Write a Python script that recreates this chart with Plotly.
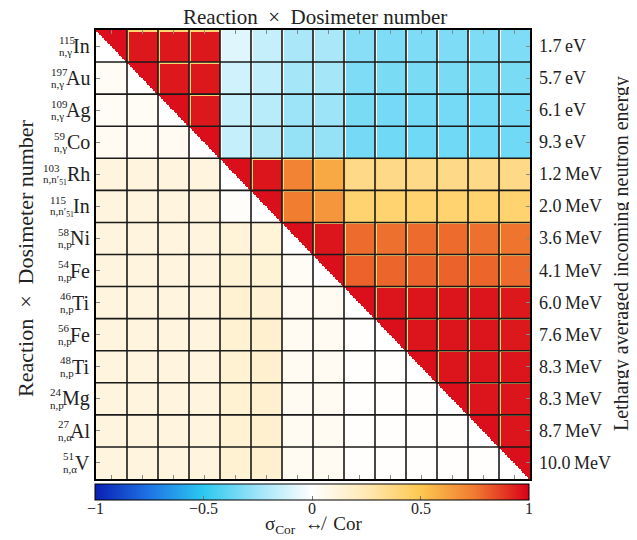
import numpy as np
import plotly.graph_objects as go

# ---------------- data ----------------
mass_numbers = ["115", "197", "109", "59", "103", "115", "58", "54", "46", "56", "48", "24", "27", "51"]
reactions = ["n,γ", "n,γ", "n,γ", "n,γ", "n,n′<sub>51</sub>", "n,n′<sub>51</sub>",
             "n,p", "n,p", "n,p", "n,p", "n,p", "n,p", "n,α", "n,α"]
elements = ["In", "Au", "Ag", "Co", "Rh", "In", "Ni", "Fe", "Ti", "Fe", "Ti", "Mg", "Al", "V"]
energies = ["1.7\u2009eV", "5.7\u2009eV", "6.1\u2009eV", "9.3\u2009eV", "1.2\u2009MeV", "2.0\u2009MeV",
            "3.6\u2009MeV", "4.1\u2009MeV", "6.0\u2009MeV", "7.6\u2009MeV", "8.3\u2009MeV", "8.3\u2009MeV",
            "8.7\u2009MeV", "10.0\u2009MeV"]
cbar_ticks = [-1, -0.5, 0, 0.5, 1]
cbar_ticktext = ["−1", "−0.5", "0", "0.5", "1"]

# block values: upper triangle = Cor, lower triangle = sigma_Cor, diagonal = Cor inside block
block_values = [
    [0.97, 0.95, 0.95, 0.95, -0.08, -0.15, -0.22, -0.22, -0.30, -0.32, -0.32, -0.32, -0.32, -0.32],
    [0.03, 0.97, 0.95, 0.95, -0.12, -0.16, -0.23, -0.23, -0.32, -0.33, -0.33, -0.33, -0.33, -0.33],
    [0.03, 0.03, 0.97, 0.95, -0.15, -0.18, -0.25, -0.25, -0.33, -0.34, -0.34, -0.34, -0.34, -0.34],
    [0.04, 0.04, 0.04, 0.97, -0.15, -0.20, -0.27, -0.27, -0.34, -0.35, -0.35, -0.35, -0.35, -0.35],
    [0.11, 0.11, 0.11, 0.11, 0.97, 0.96, 0.72, 0.60, 0.36, 0.36, 0.36, 0.36, 0.36, 0.36],
    [0.11, 0.11, 0.11, 0.11, 0.02, 0.97, 0.74, 0.66, 0.42, 0.42, 0.42, 0.42, 0.42, 0.42],
    [0.11, 0.11, 0.11, 0.11, 0.13, 0.13, 0.97, 0.96, 0.78, 0.77, 0.78, 0.78, 0.77, 0.76],
    [0.11, 0.11, 0.11, 0.11, 0.14, 0.14, 0.03, 0.97, 0.80, 0.79, 0.80, 0.80, 0.79, 0.78],
    [0.11, 0.11, 0.11, 0.11, 0.15, 0.15, 0.04, 0.04, 0.97, 0.96, 0.96, 0.96, 0.96, 0.95],
    [0.11, 0.11, 0.11, 0.11, 0.15, 0.16, 0.04, 0.04, 0.01, 0.97, 0.96, 0.96, 0.96, 0.95],
    [0.11, 0.11, 0.11, 0.11, 0.15, 0.16, 0.04, 0.04, 0.01, 0.01, 0.97, 0.96, 0.96, 0.96],
    [0.11, 0.11, 0.11, 0.11, 0.15, 0.16, 0.04, 0.04, 0.01, 0.01, 0.01, 0.97, 0.96, 0.96],
    [0.11, 0.11, 0.11, 0.11, 0.15, 0.16, 0.04, 0.04, 0.01, 0.01, 0.01, 0.01, 0.97, 0.96],
    [0.11, 0.11, 0.11, 0.11, 0.15, 0.16, 0.04, 0.04, 0.01, 0.01, 0.01, 0.01, 0.01, 0.97],
]
# first energy group of each block (visible stripes on top / left edge of upper blocks)
edge_cor_positive = 0.42
edge_cor_negative = 0.03

# ---------------- build matrix ----------------
nb = len(elements)
n = 20
N = nb * n
B = np.array(block_values)
Z = np.kron(B, np.ones((n, n)))
for i in range(nb):
    for j in range(nb):
        r0, c0 = i * n, j * n
        if i == j:
            tri = np.triu(np.ones((n, n)), 0)
            Z[r0:r0 + n, c0:c0 + n] = np.where(tri > 0, B[i, j], 0.0)
        elif j > i:
            if B[i, j] >= 0.3:
                Z[r0, c0:c0 + n] = edge_cor_positive
                Z[r0:r0 + n, c0] = edge_cor_positive
            elif B[i, j] < 0:
                Z[r0:r0 + n, c0] = edge_cor_negative

coords = (np.arange(N) + 0.5) / n

colorscale = [
    [0.0, "#0a1eb4"],
    [0.125, "#1e74e4"],
    [0.25, "#2cc8f0"],
    [0.375, "#9ee4f8"],
    [0.5, "#ffffff"],
    [0.625, "#ffe9b4"],
    [0.75, "#fdc850"],
    [0.875, "#f07a30"],
    [1.0, "#d80018"],
]

SERIF = "'Liberation Serif', 'Times New Roman', 'DejaVu Serif', serif"
# page has an 8px body margin: figure occupies page pixels 8..637 x 8..540
OFF = 8
W, H = 637 - OFF, 540 - OFF
# plot area in page pixels
L, R, T, Bm = 96, 530, 30, 479

fig = go.Figure()
fig.add_trace(go.Heatmap(
    z=Z, x=coords, y=coords, zmin=-1, zmax=1, colorscale=colorscale,
    zsmooth=False, hoverinfo="skip",
    colorbar=dict(
        orientation="h",
        x=0.5 - 1 / (R - L), xanchor="center",
        y=-(484 - Bm) / (Bm - T), yanchor="top",
        len=1.0, lenmode="fraction", thickness=16, thicknessmode="pixels",
        xpad=0, ypad=0,
        outlinecolor="black", outlinewidth=1,
        tickvals=cbar_ticks, showticklabels=False,
        ticks="inside", ticklen=4, tickcolor="#777",
    ),
))

shapes = []
for k in range(1, nb):
    shapes.append(dict(type="line", xref="x", yref="y", x0=k, x1=k, y0=0, y1=nb,
                       line=dict(color="#1a1a1a", width=1.6)))
    shapes.append(dict(type="line", xref="x", yref="y", x0=0, x1=nb, y0=k, y1=k,
                       line=dict(color="#1a1a1a", width=1.6)))

centers = [k + 0.5 for k in range(nb)]
axis_common = dict(range=[0, nb], tickvals=centers, ticks="inside", ticklen=4, tickcolor="#888",
                   showticklabels=False, showline=True, linecolor="black", linewidth=1.5,
                   mirror="ticks", showgrid=False, zeroline=False, fixedrange=True)


def px(xp):
    return (xp - L) / (R - L)


def py(yp):
    return 1 - (yp - T) / (Bm - T)


# Times-like glyph widths (em)
GW = {"I": 0.333, "n": 0.5, "A": 0.722, "u": 0.5, "g": 0.5, "C": 0.667, "o": 0.5, "R": 0.667,
      "h": 0.5, "N": 0.722, "i": 0.278, "F": 0.556, "e": 0.444, "T": 0.611, "M": 0.889,
      "l": 0.278, "V": 0.722, "c": 0.444}


def sym_width(s, size):
    return sum(GW.get(c, 0.5) for c in s) * size


annotations = []
row_h = (Bm - T) / nb
SYM = 20
SCR = 11
for i in range(nb):
    yc = T + (i + 0.5) * row_h
    sw = sym_width(elements[i], SYM)
    x_right = 92
    mw = len(mass_numbers[i]) * 0.5 * SCR
    rw = 1.3 * SCR if "51" not in reactions[i] else 2.3 * SCR
    scr_left = x_right - sw - max(mw, rw) - 2
    annotations.append(dict(xref="paper", yref="paper", x=px(x_right), y=py(yc),
                            text=elements[i], showarrow=False, xanchor="right", yanchor="middle",
                            font=dict(family=SERIF, size=SYM, color="#222")))
    annotations.append(dict(xref="paper", yref="paper", x=px(scr_left), y=py(yc - 6.5),
                            text=mass_numbers[i], showarrow=False, xanchor="left", yanchor="middle",
                            font=dict(family=SERIF, size=SCR, color="#222")))
    annotations.append(dict(xref="paper", yref="paper", x=px(scr_left), y=py(yc + 6),
                            text=reactions[i], showarrow=False, xanchor="left", yanchor="middle",
                            font=dict(family=SERIF, size=SCR, color="#222")))
    annotations.append(dict(xref="paper", yref="paper", x=px(537), y=py(yc),
                            text=energies[i], showarrow=False, xanchor="left", yanchor="middle",
                            font=dict(family=SERIF, size=18, color="#222")))

for v, t in zip(cbar_ticks, cbar_ticktext):
    annotations.append(dict(xref="paper", yref="paper", x=(v + 1) / 2 - 1 / (R - L), y=py(509),
                            text=t, showarrow=False, xanchor="center", yanchor="middle",
                            font=dict(family=SERIF, size=16, color="#222")))

annotations.append(dict(xref="paper", yref="paper", x=px(315), y=py(17),
                        text="Reaction  ×  Dosimeter number", showarrow=False,
                        xanchor="center", yanchor="middle",
                        font=dict(family=SERIF, size=21, color="#222")))
annotations.append(dict(xref="paper", yref="paper", x=px(25), y=py(258),
                        text="Reaction  ×  Dosimeter number", showarrow=False, textangle=-90,
                        xanchor="center", yanchor="middle",
                        font=dict(family=SERIF, size=22, color="#222")))
annotations.append(dict(xref="paper", yref="paper", x=px(621), y=py(254),
                        text="Lethargy averaged incoming neutron energy", showarrow=False,
                        textangle=-90, xanchor="center", yanchor="middle",
                        font=dict(family=SERIF, size=20, color="#222")))
annotations.append(dict(xref="paper", yref="paper", x=px(313), y=py(525),
                        text="σ<sub>Cor</sub>  ↮  Cor", showarrow=False,
                        xanchor="center", yanchor="middle",
                        font=dict(family=SERIF, size=19, color="#222")))

fig.update_layout(
    width=W, height=H, autosize=False,
    margin=dict(l=L - OFF, r=W - (R - OFF), t=T - OFF, b=H - (Bm - OFF), pad=0),
    paper_bgcolor="white", plot_bgcolor="white",
    xaxis=axis_common,
    yaxis=dict(axis_common, range=[nb, 0]),
    shapes=shapes, annotations=annotations, showlegend=False,
)

fig.write_html("out.html")
